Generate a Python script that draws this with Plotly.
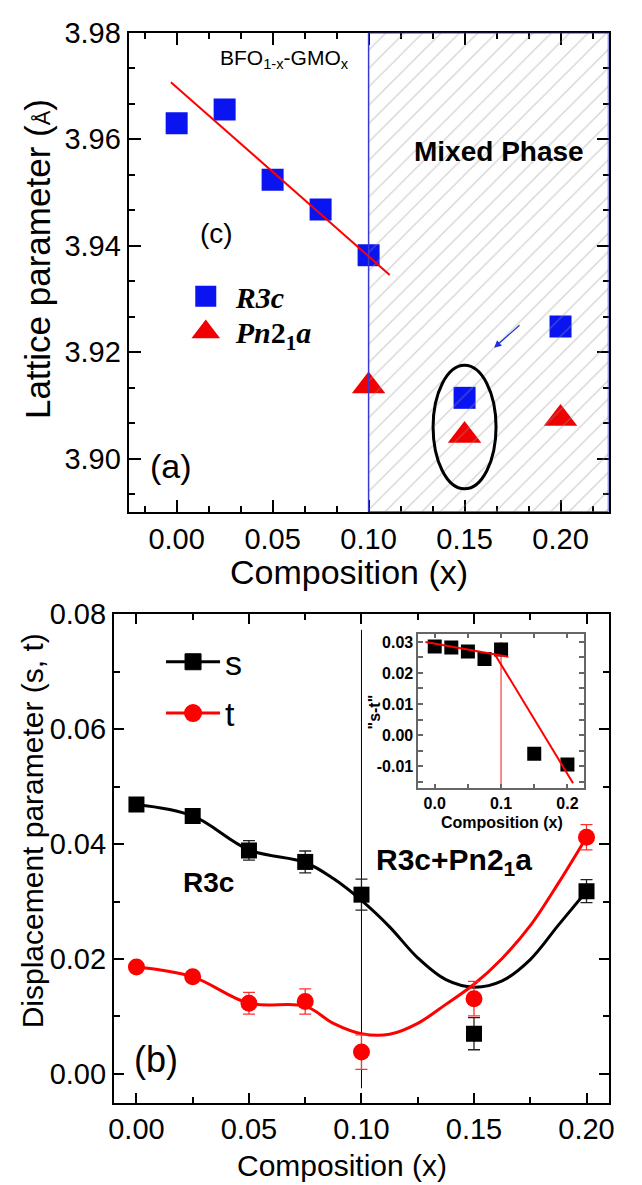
import plotly.graph_objects as go

# ---------------- panel (a): lattice parameter ----------------
comp_r3c = [0.0, 0.025, 0.05, 0.075, 0.10, 0.15, 0.20]
lat_r3c = [3.9630, 3.9656, 3.9524, 3.9468, 3.9382, 3.9114, 3.9248]
comp_pn = [0.10, 0.15, 0.20]
lat_pn = [3.9136, 3.9043, 3.9075]
fit_a_x = [-0.003, 0.111]
fit_a_y = [3.9707, 3.9345]
mixed_x = [0.10, 0.225, 0.225, 0.10, 0.10]
mixed_y = [3.89, 3.89, 3.98, 3.98, 3.89]
ellipse_x = [0.1336, 0.1664]
ellipse_y = [3.8943, 3.9175]
arrow_from = (0.1794, 3.9253)
arrow_to = (0.1654, 3.9208)

# ---------------- panel (b): displacement parameters ----------------
comp_b = [0.0, 0.025, 0.05, 0.075, 0.10, 0.15, 0.20]
s_vals = [0.0469, 0.0449, 0.0389, 0.0369, 0.0312, 0.0070, 0.0318]
s_err = [0.0, 0.0, 0.0017, 0.0019, 0.0027, 0.0028, 0.0020]
t_vals = [0.0186, 0.0169, 0.0123, 0.0126, 0.0038, 0.0131, 0.0412]
t_err = [0.0, 0.0, 0.0019, 0.0022, 0.0030, 0.0030, 0.0022]
fit_x = [0.0, 0.025, 0.05, 0.075, 0.0875, 0.10, 0.1125, 0.125, 0.1375, 0.15, 0.1625, 0.175, 0.1875, 0.20]
s_fit_y = [0.0469, 0.0449, 0.0390, 0.0368, 0.0340, 0.0302, 0.0256, 0.0202, 0.0164, 0.0151, 0.0162, 0.0199, 0.0259, 0.0318]
t_fit_y = [0.0186, 0.0169, 0.0123, 0.0118, 0.0088, 0.0070, 0.0069, 0.0088, 0.0121, 0.0156, 0.0201, 0.0258, 0.0332, 0.0412]
boundary_x = [0.10, 0.10]
boundary_y = [-0.0025, 0.0773]

# ---------------- inset: s - t ----------------
comp_in = [0.0, 0.025, 0.05, 0.075, 0.10, 0.15, 0.20]
st_vals = [0.0285, 0.0282, 0.0269, 0.0245, 0.0276, -0.0060, -0.0095]
fit1_x = [-0.014, 0.111]
fit1_y = [0.0300, 0.0252]
fit2_x = [0.091, 0.2085]
fit2_y = [0.0259, -0.0155]
inset_vline_x = [0.10, 0.10]
inset_vline_y = [-0.0172, 0.0300]
inset_yticks = [-0.01, 0.0, 0.01, 0.02, 0.03]
inset_ytext = ["-0.01", "0.00", "0.01", "0.02", "0.03"]

W, H = 642, 1185
SANS = "Liberation Sans, Arial, sans-serif"
SERIF = "Liberation Serif, Times New Roman, serif"
BLUE = "#0a14f0"
RED = "#f00000"

fig = go.Figure()

# ---- panel (a) traces ----
fig.add_trace(go.Scatter(x=comp_r3c, y=lat_r3c, mode="markers", showlegend=False,
                         marker=dict(symbol="square", size=22, color=BLUE),
                         xaxis="x", yaxis="y"))
fig.add_trace(go.Scatter(x=comp_pn, y=lat_pn, mode="markers", showlegend=False,
                         marker=dict(symbol="triangle-up", size=29, color=RED),
                         xaxis="x", yaxis="y"))
fig.add_trace(go.Scatter(x=mixed_x, y=mixed_y, mode="lines", fill="toself",
                         fillcolor="rgba(0,0,0,0)",
                         fillpattern=dict(shape="/", size=13, solidity=0.1,
                                          fgcolor="rgba(150,150,150,0.85)"),
                         line=dict(color="#3a3ad0", width=1.5),
                         hoverinfo="skip", showlegend=False, xaxis="x", yaxis="y"))
fig.add_trace(go.Scatter(x=fit_a_x, y=fit_a_y, mode="lines", line=dict(color="#ff0000", width=2),
                         showlegend=False, xaxis="x", yaxis="y"))
# legend keys for panel (a)
fig.add_trace(go.Scatter(x=[None], y=[None], mode="markers", name="<b><i>R3c</i></b>",
                         marker=dict(symbol="square", size=16, color=BLUE, line=dict(color=BLUE, width=5)),
                         xaxis="x", yaxis="y", legend="legend"))
fig.add_trace(go.Scatter(x=[None], y=[None], mode="markers",
                         name="<b><i>Pn</i>2<sub>1</sub><i>a</i></b>",
                         marker=dict(symbol="triangle-up", size=16, color=RED, line=dict(color=RED, width=5)),
                         xaxis="x", yaxis="y", legend="legend3"))

# ---- panel (b) traces ----
fig.add_trace(go.Scatter(x=boundary_x, y=boundary_y, mode="lines", line=dict(color="black", width=1),
                         showlegend=False, xaxis="x2", yaxis="y2"))
fig.add_trace(go.Scatter(x=fit_x, y=s_fit_y, mode="lines", line=dict(color="black", width=3, shape="spline"),
                         showlegend=False, xaxis="x2", yaxis="y2"))
fig.add_trace(go.Scatter(x=fit_x, y=t_fit_y, mode="lines", line=dict(color="#ff0000", width=3, shape="spline"),
                         showlegend=False, xaxis="x2", yaxis="y2"))
fig.add_trace(go.Scatter(x=comp_b, y=s_vals, mode="markers",
                         error_y=dict(type="data", array=s_err, color="#222", thickness=1.3, width=6),
                         marker=dict(symbol="square", size=16, color="black"),
                         showlegend=False, xaxis="x2", yaxis="y2"))
fig.add_trace(go.Scatter(x=comp_b, y=t_vals, mode="markers",
                         error_y=dict(type="data", array=t_err, color="#ff3030", thickness=1.3, width=6),
                         marker=dict(symbol="circle", size=17, color="#ff0000"),
                         showlegend=False, xaxis="x2", yaxis="y2"))
# legend keys for panel (b)
fig.add_trace(go.Scatter(x=[None], y=[None], mode="lines+markers", name="s",
                         line=dict(color="black", width=3),
                         marker=dict(symbol="square", size=16, color="black", line=dict(color="black", width=1)),
                         xaxis="x2", yaxis="y2", legend="legend2"))
fig.add_trace(go.Scatter(x=[None], y=[None], mode="lines+markers", name="t",
                         line=dict(color="#ff0000", width=3),
                         marker=dict(symbol="circle", size=16, color="#ff0000", line=dict(color="#ff0000", width=2)),
                         xaxis="x2", yaxis="y2", legend="legend4"))

# ---- inset traces ----
fig.add_trace(go.Scatter(x=inset_vline_x, y=inset_vline_y, mode="lines", line=dict(color="#ff6060", width=1.5),
                         showlegend=False, xaxis="x3", yaxis="y3"))
fig.add_trace(go.Scatter(x=comp_in, y=st_vals, mode="markers",
                         marker=dict(symbol="square", size=14, color="black"),
                         showlegend=False, xaxis="x3", yaxis="y3"))
fig.add_trace(go.Scatter(x=fit1_x, y=fit1_y, mode="lines", line=dict(color="#ff0000", width=2),
                         showlegend=False, xaxis="x3", yaxis="y3"))
fig.add_trace(go.Scatter(x=fit2_x, y=fit2_y, mode="lines", line=dict(color="#ff0000", width=2),
                         showlegend=False, xaxis="x3", yaxis="y3"))


def dom(a, b, total):
    return [a / total, b / total]


def ydom(top, bottom):
    return [1 - bottom / H, 1 - top / H]


axis_common = dict(showline=True, linecolor="black", linewidth=2, mirror="ticks", ticks="inside",
                   tickcolor="black", tickwidth=1.5, showgrid=False, zeroline=False,
                   tickfont=dict(family=SANS, size=29, color="black"))


def legend_at(x_px, y_px, family, size, itemwidth):
    return dict(x=x_px / W, y=1 - y_px / H, xanchor="left", yanchor="middle",
                bgcolor="rgba(0,0,0,0)", borderwidth=0,
                font=dict(family=family, size=size, color="black"),
                itemsizing="trace", itemwidth=itemwidth)


fig.update_layout(
    width=W, height=H, autosize=False,
    margin=dict(l=0, r=0, t=0, b=0),
    paper_bgcolor="white", plot_bgcolor="white",
    font=dict(family=SANS, color="black"),
    xaxis=dict(axis_common, domain=dom(125, 614, W), range=[-0.025, 0.225], anchor="y",
               tick0=0, dtick=0.05, tickformat=".2f", ticklen=12, layer="below traces",
               minor=dict(tick0=0, dtick=0.05 / 3, ticks="inside", ticklen=6, tickwidth=1.5, tickcolor="black")),
    yaxis=dict(axis_common, domain=ydom(17, 502.5), range=[3.89, 3.98], anchor="x",
               tick0=3.90, dtick=0.02, tickformat=".2f", ticklen=12, layer="below traces",
               minor=dict(tick0=3.90, dtick=0.02 / 3, ticks="inside", ticklen=6, tickwidth=1.5, tickcolor="black")),
    xaxis2=dict(axis_common, domain=dom(110, 614.5, W), range=[-0.01, 0.21], anchor="y2",
                tick0=0, dtick=0.05, tickformat=".2f", ticklen=10,
                minor=dict(tick0=0, dtick=0.025, ticks="inside", ticklen=6, tickwidth=1.5, tickcolor="black")),
    yaxis2=dict(axis_common, domain=ydom(606.5, 1101.5), range=[-0.005, 0.08], anchor="x2",
                tick0=0, dtick=0.02, tickformat=".2f", ticklen=10,
                minor=dict(tick0=0, dtick=0.01, ticks="inside", ticklen=6, tickwidth=1.5, tickcolor="black")),
    xaxis3=dict(showline=True, linecolor="#666", linewidth=1.5, mirror="ticks", ticks="inside",
                tickcolor="#666", tickwidth=1.5, ticklen=5, showgrid=False, zeroline=False,
                domain=dom(420, 589, W), range=[-0.025, 0.225], anchor="y3",
                tick0=0, dtick=0.1, tickformat=".1f",
                tickfont=dict(family=SANS, size=16, color="black", weight="bold"),
                minor=dict(tick0=0, dtick=0.05, ticks="inside", ticklen=5, tickwidth=1.5, tickcolor="#666")),
    yaxis3=dict(showline=True, linecolor="#666", linewidth=1.5, mirror="ticks", ticks="inside",
                tickcolor="#666", tickwidth=1.5, ticklen=5, showgrid=False, zeroline=False,
                domain=ydom(626, 783), range=[-0.0172, 0.0327], anchor="x3",
                tickvals=inset_yticks, ticktext=inset_ytext,
                tickfont=dict(family=SANS, size=16, color="black", weight="bold"),
                minor=dict(tick0=0, dtick=0.005, ticks="inside", ticklen=5, tickwidth=1.5, tickcolor="#666")),
    legend=legend_at(173, 284, SERIF, 30, 50),
    legend3=legend_at(173, 320, SERIF, 30, 50),
    legend2=legend_at(158, 655, SANS, 34, 54),
    legend4=legend_at(158, 707, SANS, 34, 54),
)

# ellipse and arrow (panel a)
fig.add_shape(type="circle", xref="x", yref="y", x0=ellipse_x[0], x1=ellipse_x[1],
              y0=ellipse_y[0], y1=ellipse_y[1], line=dict(color="black", width=3))
fig.add_annotation(x=arrow_to[0], y=arrow_to[1], ax=arrow_from[0], ay=arrow_from[1],
                   xref="x", yref="y", axref="x", ayref="y", showarrow=True, text="",
                   arrowhead=2, arrowsize=1.2, arrowwidth=1.2, arrowcolor="#2030e0")

annos = [
    # panel (a)
    dict(text="BFO<sub>1-x</sub>-GMO<sub>x</sub>", x=0.056, y=3.975, xref="x", yref="y", size=21),
    dict(text="<b>Mixed Phase</b>", x=0.168, y=3.9576, xref="x", yref="y", size=28),
    dict(text="(c)", x=0.021, y=3.9422, xref="x", yref="y", size=28),
    dict(text="(a)", x=-0.003, y=3.8986, xref="x", yref="y", size=34),
    # panel (b)
    dict(text="<b>R3c</b>", x=0.032, y=0.0333, xref="x2", yref="y2", size=28),
    dict(text="<b>R3c+Pn2<sub>1</sub>a</b>", x=0.141, y=0.037, xref="x2", yref="y2", size=30),
    dict(text="(b)", x=0.0088, y=0.00245, xref="x2", yref="y2", size=36),
]
for a in annos:
    fig.add_annotation(text=a["text"], x=a["x"], y=a["y"], xref=a["xref"], yref=a["yref"],
                       showarrow=False, font=dict(family=SANS, size=a["size"], color="black"))

# axis titles
titles = [
    dict(text="Lattice parameter (<span style='font-size:22px'>Å</span>)", x=32, y=246, size=35, angle=-90),
    dict(text="Composition (x)", x=350, y=564, size=34, angle=0),
    dict(text="Displacement parameter (s, t)", x=27, y=826, size=30, angle=-90),
    dict(text="Composition (x)", x=342, y=1165, size=30, angle=0),
    dict(text="<b>Composition (x)</b>", x=505, y=818, size=16, angle=0),
    dict(text="<b>\"s-t\"</b>", x=376, y=705, size=16, angle=-90),
]
for t in titles:
    fig.add_annotation(text=t["text"], x=t["x"] / W, y=1 - t["y"] / H, xref="paper", yref="paper",
                       showarrow=False, textangle=t["angle"], xanchor="center", yanchor="middle",
                       font=dict(family=SANS, size=t["size"], color="black"))

fig.write_html("out.html")
